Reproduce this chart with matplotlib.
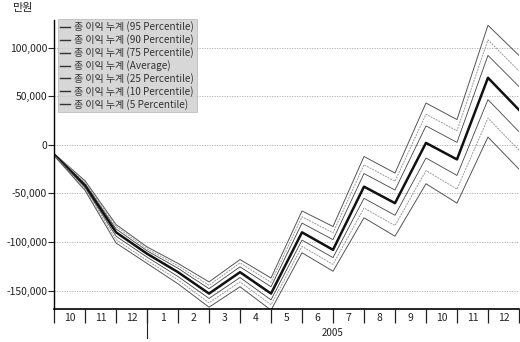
import matplotlib
matplotlib.use("Agg")
import matplotlib.pyplot as plt
import matplotlib.transforms as mtransforms
from matplotlib.ticker import FuncFormatter

plt.rcParams['font.family'] = ['Noto Sans CJK KR', 'DejaVu Sans']

# 월 라벨 (2004.10 ~ 2005.12)
month_labels = ['10', '11', '12', '1', '2', '3', '4', '5', '6', '7', '8', '9', '10', '11', '12']
year_label = '2005'

# 총 이익 누계 (단위: 만원), 월 경계마다 한 점
p95 = [-9000, -37000, -82000, -105000, -122000, -141000, -118000, -137000,
       -68000, -84000, -12000, -29000, 43000, 26000, 123000, 92000]
p90 = [-9300, -38500, -84000, -107000, -124500, -144500, -121500, -141500,
       -74000, -90500, -20500, -37500, 31500, 14500, 108000, 76000]
p75 = [-9600, -40000, -86500, -109000, -127000, -148000, -125500, -146000,
       -80500, -97500, -29500, -46500, 19500, 2500, 92000, 60000]
avg = [-10000, -42000, -90000, -112000, -131000, -153000, -131000, -153000,
       -90000, -108000, -43000, -60000, 2000, -15000, 69000, 36000]
p25 = [-10400, -44000, -94000, -115500, -135500, -158000, -136500, -159500,
       -98000, -116000, -55000, -72500, -13500, -31500, 46500, 13500]
p10 = [-10700, -45500, -97500, -119000, -139000, -162500, -141000, -164500,
       -104500, -123000, -65000, -83000, -26500, -45500, 27500, -5500]
p5 = [-11000, -47000, -101000, -122000, -143000, -167000, -146000, -170000,
      -111000, -130000, -75000, -94000, -40000, -60000, 8000, -25000]

series = [
    ('총 이익 누계 (95 Percentile)', p95, '#555555', 0.7, '-'),
    ('총 이익 누계 (90 Percentile)', p90, '#9a9a9a', 0.7, (0, (2, 1))),
    ('총 이익 누계 (75 Percentile)', p75, '#444444', 0.6, '-'),
    ('총 이익 누계 (Average)', avg, '#111111', 1.8, '-'),
    ('총 이익 누계 (25 Percentile)', p25, '#444444', 0.6, '-'),
    ('총 이익 누계 (10 Percentile)', p10, '#9a9a9a', 0.7, (0, (2, 1))),
    ('총 이익 누계 (5 Percentile)', p5, '#555555', 0.7, '-'),
]

fig = plt.figure(figsize=(5.2, 3.42), dpi=100)
ax = fig.add_axes([0.104, 0.097, 0.894, 0.845])

x = list(range(len(avg)))
for name, vals, color, lw, ls in series:
    ax.plot(x, vals, color=color, lw=lw, linestyle=ls, label=name)

ax.set_xlim(0, 15)
ax.set_ylim(-168700, 128600)

yt = [-150000, -100000, -50000, 0, 50000, 100000]
ax.set_yticks(yt)
ax.yaxis.set_major_formatter(FuncFormatter(lambda v, p: f'{int(v):,}'))
ax.tick_params(axis='y', length=4, width=0.8, labelsize=7.5, pad=1, colors='#222222')
ax.grid(axis='y', color='#aaaaaa', linestyle=(0, (1.5, 1.5)), lw=0.6)

# 월 경계 눈금 + 월 라벨
ax.set_xticks(range(16))
ax.set_xticklabels([])
ax.set_xticks([i + 0.5 for i in range(15)], minor=True)
ax.set_xticklabels(month_labels, minor=True)
ax.tick_params(axis='x', which='major', length=10, width=0.9, color='#222222')
ax.tick_params(axis='x', which='minor', length=0, labelsize=7.5, pad=3, colors='#222222')

# 연도 구분선
trans = mtransforms.blended_transform_factory(ax.transData, ax.transAxes)
ax.plot([3, 3], [0, -0.1], transform=trans, color='#222222', lw=0.8, clip_on=False)
ax.text(9, -0.085, year_label, transform=trans, ha='center', va='center', fontsize=7, color='#222222')

for s in ['top', 'right']:
    ax.spines[s].set_visible(False)
ax.spines['left'].set_linewidth(1.0)
ax.spines['bottom'].set_linewidth(1.2)

fig.text(0.042, 0.977, '만원', fontsize=8, ha='center', va='center', color='#222222')

leg = ax.legend(loc='upper left', bbox_to_anchor=(0.004, 1.01), fontsize=7.2,
                handlelength=1.0, handletextpad=0.4, labelspacing=0.2,
                borderpad=0.25, borderaxespad=0.2, frameon=True, fancybox=False)
leg.get_frame().set_facecolor('#cdcdcd')
leg.get_frame().set_edgecolor('#a5a5a5')
leg.get_frame().set_linewidth(0.5)
for t in leg.get_texts():
    t.set_color('#333333')
for h in leg.get_lines():
    h.set_color('#333333')
    h.set_linestyle('-')
    h.set_linewidth(1.0)

fig.savefig('out.png', dpi=100)
